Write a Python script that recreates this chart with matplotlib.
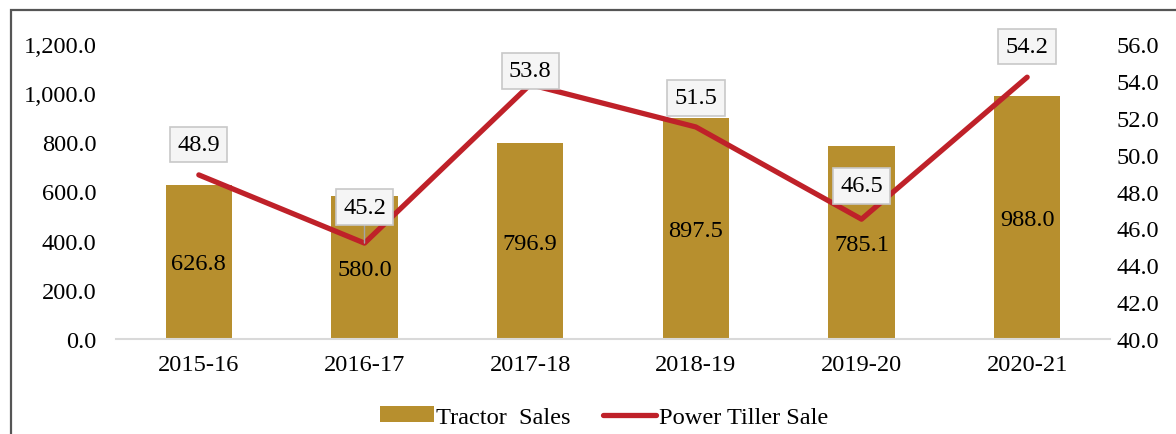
import matplotlib
matplotlib.use("Agg")
import matplotlib.pyplot as plt
from matplotlib.patches import Rectangle
from matplotlib.lines import Line2D
from matplotlib.patches import Patch

years = ["2015-16", "2016-17", "2017-18", "2018-19", "2019-20", "2020-21"]
tractor_sales = [626.8, 580.0, 796.9, 897.5, 785.1, 988.0]
power_tiller = [48.9, 45.2, 53.8, 51.5, 46.5, 54.2]
left_ticks = [0, 200, 400, 600, 800, 1000, 1200]
right_ticks = [40, 42, 44, 46, 48, 50, 52, 54, 56]

plt.rcParams['font.family'] = ['Liberation Serif', 'DejaVu Serif']
FS = 17.6
bar_color = "#b78f2e"
line_color = "#bf2129"

fig = plt.figure(figsize=(11.76, 4.35), dpi=100)
ax = fig.add_axes([116/1176, 1-340/435, (1110-116)/1176, (340-45)/435])
ax2 = ax.twinx()

x = list(range(len(years)))
bars = ax.bar(x, tractor_sales, width=0.4, color=bar_color, zorder=2)
ax.set_xlim(-0.5, len(years)-0.5)
ax.set_ylim(0, 1200)
ax.set_yticks(left_ticks)
ax.set_yticklabels([f"{v:,.1f}" for v in left_ticks])
ax.set_xticks(x)
ax.set_xticklabels(years)
ax.tick_params(axis='both', length=0, labelsize=FS)
ax.tick_params(axis='y', pad=14)
ax.tick_params(axis='x', pad=11)
for s in ["top", "right", "left"]:
    ax.spines[s].set_visible(False)
ax.spines["bottom"].set_color("#d9d9d9")
ax.spines["bottom"].set_linewidth(1.5)

for xi, v in zip(x, tractor_sales):
    ax.text(xi, v/2 - 8, f"{v:.1f}", ha='center', va='center', fontsize=FS, zorder=3)

ax2.plot(x, power_tiller, color=line_color, linewidth=3.8, solid_capstyle='round', zorder=4)
ax2.set_ylim(40, 56)
ax2.set_yticks(right_ticks)
ax2.set_yticklabels([f"{v:.1f}" for v in right_ticks])
ax2.tick_params(axis='y', length=0, labelsize=FS, pad=5)
for s in ax2.spines.values():
    s.set_visible(False)

offsets = [22, 26, 10, 21, 24, 22]
for xi, v, off in zip(x, power_tiller, offsets):
    leader = dict(arrowstyle='-', color='#a6a6a6', lw=1.0, shrinkA=0, shrinkB=0) if off >= 25 else None
    ax2.annotate(f"{v:.1f}", xy=(xi, v), xytext=(0, off), textcoords='offset points',
                 ha='center', va='center', fontsize=FS, zorder=5,
                 bbox=dict(boxstyle='square,pad=0.3', fc='#f5f5f5', ec='#c8c8c8', lw=1.2),
                 arrowprops=leader)

handles = [Patch(facecolor=bar_color, edgecolor='none'),
           Line2D([0], [0], color=line_color, lw=3.8, solid_capstyle='round')]
fig.legend(handles, ["Tractor  Sales", "Power Tiller Sale"], loc='center',
           bbox_to_anchor=(604/1176, 1-418/435), ncol=2, frameon=False, fontsize=FS,
           handlelength=2.2, handletextpad=0.1, columnspacing=1.3, handleheight=0.6)

fig.patches.append(Rectangle((11/1176, -0.1), 1.2, 1-11/435+0.1, transform=fig.transFigure,
                             fill=False, edgecolor='#555555', linewidth=1.6, zorder=10))

fig.savefig("out.png", dpi=100)
